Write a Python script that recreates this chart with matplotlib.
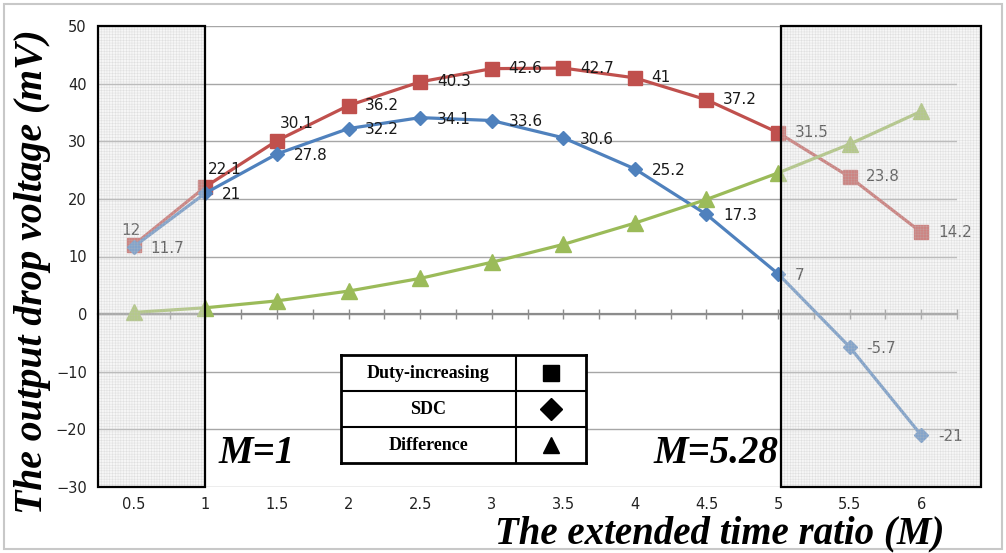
import matplotlib
matplotlib.use("Agg")
import matplotlib.pyplot as plt
from matplotlib.patches import Rectangle
from matplotlib.ticker import MultipleLocator, FixedLocator

# Extended time ratio categories
ratios = ["0.5", "1", "1.5", "2", "2.5", "3", "3.5", "4", "4.5", "5", "5.5", "6"]

# Output drop voltage (mV)
duty_increasing = [12, 22.1, 30.1, 36.2, 40.3, 42.6, 42.7, 41, 37.2, 31.5, 23.8, 14.2]
sdc = [11.7, 21, 27.8, 32.2, 34.1, 33.6, 30.6, 25.2, 17.3, 7, -5.7, -21]
difference = [0.3, 1.1, 2.3, 4.0, 6.2, 9.0, 12.1, 15.8, 19.9, 24.5, 29.5, 35.2]

# Shaded regions (category index span) and their annotations
region_left = (-0.5, 1.0)
region_right = (9.04, 11.83)
region_labels = ["M=1", "M=5.28"]

RED = "#C0504D"
BLUE = "#4F81BD"
GREEN = "#9BBB59"

plt.rcParams["hatch.linewidth"] = 0.35

W, H = 1006, 553
fig = plt.figure(figsize=(W / 100, H / 100), dpi=100)
ax = fig.add_axes([98 / W, 1 - 487 / H, (957 - 98) / W, (487 - 26) / H])

x = list(range(len(ratios)))
ax.set_xlim(-0.5, len(ratios) - 0.5)
ax.set_ylim(-30, 50)

# horizontal grid
ax.yaxis.set_major_locator(MultipleLocator(10))
ax.grid(axis="y", color="#a6a6a6", lw=1.0, zorder=0)
ax.set_axisbelow(True)
for s in ["top", "right", "left"]:
    ax.spines[s].set_visible(False)

# category axis drawn through zero
ax.spines["bottom"].set_position(("data", 0))
ax.spines["bottom"].set_color("#8c8c8c")
ax.spines["bottom"].set_linewidth(1.6)
ax.xaxis.set_major_locator(FixedLocator([i * 0.5 - 0.5 for i in range(2 * len(ratios) + 1)]))
ax.tick_params(axis="x", which="major", direction="inout", length=7, color="#8c8c8c",
               width=1.0, labelbottom=False)
ax.tick_params(axis="y", length=0, pad=8, labelsize=10.5, labelcolor="#222222")

# category labels along the bottom of the plot area
sec = ax.secondary_xaxis("bottom")
sec.set_xticks(x)
sec.set_xticklabels(ratios, family=["Liberation Sans Narrow", "DejaVu Sans"], fontsize=10.5)
sec.tick_params(length=0, pad=7, labelcolor="#222222")
sec.spines["bottom"].set_visible(False)

# series
ax.plot(x, duty_increasing, color=RED, lw=2.3, marker="s", ms=10, zorder=3)
ax.plot(x, sdc, color=BLUE, lw=2.3, marker="D", ms=7, zorder=3)
ax.plot(x, difference, color=GREEN, lw=2.3, marker="^", ms=11, zorder=3)

label_kw = dict(fontsize=11, color="#1a1a1a", zorder=4, family="DejaVu Sans")
for i, v in enumerate(duty_increasing):
    if i == 0:
        ax.annotate(f"{v:g}", (i, v), xytext=(-2, 5), textcoords="offset points",
                    ha="center", va="bottom", **label_kw)
    elif i in (1, 2):
        ax.annotate(f"{v:g}", (i, v), xytext=(14, 7), textcoords="offset points",
                    ha="center", va="bottom", **label_kw)
    else:
        ax.annotate(f"{v:g}", (i, v), xytext=(12, 0), textcoords="offset points",
                    ha="left", va="center", **label_kw)
for i, v in enumerate(sdc):
    ax.annotate(f"{v:g}", (i, v), xytext=(12, -1), textcoords="offset points",
                ha="left", va="center", **label_kw)

# shaded regions with fine mesh
for (a, b) in (region_left, region_right):
    ax.add_patch(Rectangle((a, -30), b - a, 80, facecolor=(0.9, 0.9, 0.9, 0.35),
                           edgecolor="none", lw=0, zorder=5, clip_on=False))
    ax.add_patch(Rectangle((a, -30), b - a, 80, facecolor="none",
                           edgecolor=(0.74, 0.74, 0.74, 0.4), hatch="++++++", lw=0,
                           zorder=5, clip_on=False))
    ax.add_patch(Rectangle((a, -30), b - a, 80, facecolor="none", edgecolor="black",
                           lw=1.6, zorder=6, clip_on=False))

serif = ["Liberation Serif", "DejaVu Serif"]
ax.text(region_left[1] + 0.18, -24.2, region_labels[0], fontsize=28, fontweight="bold",
        fontstyle="italic", family=serif, ha="left", va="center", zorder=7)
ax.text(region_right[0] - 0.03, -24.2, region_labels[1], fontsize=28, fontweight="bold",
        fontstyle="italic", family=serif, ha="right", va="center", zorder=7)

# axis titles
fig.text(33 / W, 1 - 272 / H, "The output drop voltage (mV)", rotation=90, fontsize=28.5,
         fontweight="bold", fontstyle="italic", family=serif, ha="center", va="center")
fig.text(720 / W, 1 - 543 / H, "The extended time ratio (M)", fontsize=28,
         fontweight="bold", fontstyle="italic", family=serif, ha="center", va="baseline")

# legend table
names = ["Duty-increasing", "SDC", "Difference"]
markers = [("s", 12), ("D", 11), ("^", 12)]
lg = fig.add_axes([341 / W, 1 - 463 / H, 245 / W, 108 / H])
lg.set_xlim(0, 1)
lg.set_ylim(0, 3)
lg.set_xticks([])
lg.set_yticks([])
lg.set_zorder(10)
for s in lg.spines.values():
    s.set_linewidth(2)
    s.set_color("black")
sep = (516 - 341) / 245
lg.axvline(sep, color="black", lw=1.5)
for k in (1, 2):
    lg.axhline(k, color="black", lw=1.5)
for r, (name, (m, ms)) in enumerate(zip(names, markers)):
    yc = 2.5 - r
    lg.text(sep / 2, yc, name, ha="center", va="center", fontsize=13,
            fontweight="bold", family=serif)
    lg.plot([(1 + sep) / 2], [yc], marker=m, ms=ms, color="black", ls="none")

# outer frame
fig.add_artist(Rectangle((4 / W, 4 / H), 1 - 8 / W, 1 - 8 / H, transform=fig.transFigure,
                         facecolor="none", edgecolor="#c8c8c8", lw=1.5))

fig.savefig("out.png", dpi=100)
